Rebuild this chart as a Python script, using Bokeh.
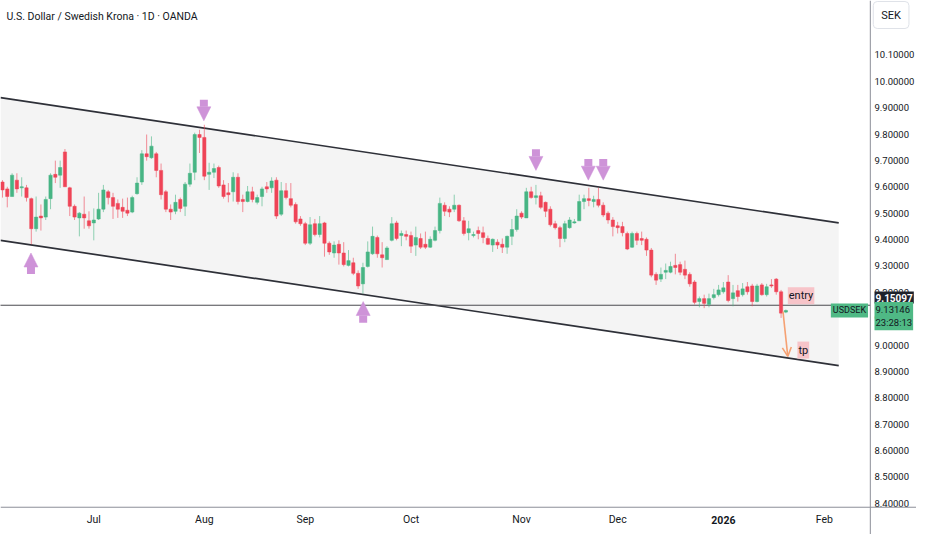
from bokeh.plotting import figure
from bokeh.models import (Range1d, Span, Label, Arrow, NormalHead, OpenHead,
                          ColumnDataSource)
from bokeh.core.properties import value
from bokeh.embed import file_html
from bokeh.resources import INLINE

# ---------------- data ----------------
title_text = "U.S. Dollar / Swedish Krona \u00b7 1D \u00b7 OANDA"
month_ticks = [19, 42, 63, 85, 108, 128, 150, 171]
month_labels = ["Jul", "Aug", "Sep", "Oct", "Nov", "Dec", "2026", "Feb"]
price_ticks = [8.4, 8.5, 8.6, 8.7, 8.8, 8.9, 9.0, 9.1, 9.2, 9.3, 9.4, 9.5,
               9.6, 9.7, 9.8, 9.9, 10.0, 10.1]

opens = [9.618, 9.592, 9.563, 9.625, 9.596, 9.596, 9.555, 9.441, 9.489, 9.485,
         9.555, 9.647, 9.644, 9.732, 9.596, 9.526, 9.482, 9.496, 9.471, 9.463,
         9.478, 9.515, 9.581, 9.559, 9.537, 9.522, 9.511, 9.504, 9.574, 9.618,
         9.725, 9.710, 9.725, 9.662, 9.581, 9.515, 9.507, 9.552, 9.526, 9.610,
         9.655, 9.798, 9.787, 9.647, 9.655, 9.673, 9.607, 9.577, 9.581, 9.636,
         9.552, 9.544, 9.581, 9.541, 9.563, 9.600, 9.596, 9.625, 9.496, 9.585,
         9.555, 9.533, 9.478, 9.460, 9.386, 9.460, 9.419, 9.463, 9.386, 9.349,
         9.382, 9.349, 9.302, 9.312, 9.272, 9.232, 9.298, 9.346, 9.408, 9.342,
         9.324, 9.397, 9.463, 9.415, 9.419, 9.415, 9.379, 9.404, 9.382, 9.371,
         9.397, 9.434, 9.530, 9.515, 9.515, 9.530, 9.471, 9.426, 9.415, 9.434,
         9.426, 9.404, 9.379, 9.390, 9.382, 9.371, 9.412, 9.438, 9.500, 9.482,
         9.581, 9.559, 9.566, 9.541, 9.515, 9.460, 9.445, 9.404, 9.445, 9.463,
         9.471, 9.544, 9.555, 9.544, 9.552, 9.530, 9.500, 9.474, 9.452, 9.449,
         9.423, 9.371, 9.423, 9.404, 9.401, 9.360, 9.268, 9.250, 9.276, 9.276,
         9.302, 9.305, 9.287, 9.268, 9.239, 9.165, 9.176, 9.154, 9.180, 9.191,
         9.202, 9.239, 9.176, 9.206, 9.191, 9.221, 9.224, 9.165, 9.228, 9.191,
         9.228, 9.250, 9.202, 9.125]

highs = [9.625, 9.600, 9.651, 9.651, 9.636, 9.607, 9.559, 9.563, 9.533, 9.563,
         9.651, 9.699, 9.699, 9.743, 9.600, 9.533, 9.504, 9.563, 9.507, 9.518,
         9.577, 9.607, 9.588, 9.577, 9.552, 9.555, 9.559, 9.566, 9.636, 9.739,
         9.798, 9.791, 9.732, 9.688, 9.588, 9.533, 9.570, 9.559, 9.618, 9.688,
         9.805, 9.816, 9.835, 9.691, 9.688, 9.680, 9.625, 9.614, 9.655, 9.651,
         9.570, 9.603, 9.600, 9.570, 9.600, 9.618, 9.636, 9.636, 9.618, 9.614,
         9.614, 9.541, 9.489, 9.467, 9.485, 9.478, 9.489, 9.467, 9.393, 9.393,
         9.397, 9.390, 9.360, 9.331, 9.283, 9.312, 9.393, 9.449, 9.415, 9.390,
         9.375, 9.485, 9.471, 9.434, 9.434, 9.430, 9.449, 9.423, 9.430, 9.412,
         9.449, 9.559, 9.541, 9.526, 9.570, 9.533, 9.485, 9.471, 9.430, 9.449,
         9.449, 9.415, 9.404, 9.401, 9.404, 9.415, 9.478, 9.515, 9.507, 9.596,
         9.600, 9.607, 9.581, 9.544, 9.526, 9.471, 9.452, 9.471, 9.485, 9.478,
         9.570, 9.570, 9.596, 9.566, 9.596, 9.541, 9.507, 9.485, 9.467, 9.467,
         9.430, 9.430, 9.430, 9.430, 9.408, 9.368, 9.276, 9.294, 9.309, 9.316,
         9.346, 9.316, 9.320, 9.276, 9.246, 9.184, 9.191, 9.195, 9.213, 9.228,
         9.239, 9.265, 9.228, 9.228, 9.235, 9.239, 9.232, 9.232, 9.235, 9.232,
         9.250, 9.254, 9.209, 9.135]

lows = [9.559, 9.522, 9.563, 9.577, 9.563, 9.544, 9.382, 9.430, 9.434, 9.474,
        9.515, 9.614, 9.596, 9.600, 9.489, 9.474, 9.412, 9.441, 9.441, 9.397,
        9.474, 9.504, 9.533, 9.478, 9.482, 9.482, 9.489, 9.500, 9.570, 9.607,
        9.699, 9.706, 9.636, 9.552, 9.504, 9.474, 9.496, 9.504, 9.489, 9.600,
        9.625, 9.728, 9.625, 9.588, 9.633, 9.596, 9.555, 9.541, 9.544, 9.533,
        9.504, 9.541, 9.541, 9.533, 9.526, 9.577, 9.577, 9.478, 9.489, 9.552,
        9.522, 9.460, 9.452, 9.379, 9.379, 9.412, 9.408, 9.335, 9.342, 9.331,
        9.305, 9.298, 9.298, 9.265, 9.213, 9.195, 9.294, 9.342, 9.331, 9.294,
        9.324, 9.393, 9.397, 9.375, 9.397, 9.349, 9.338, 9.364, 9.364, 9.368,
        9.393, 9.423, 9.489, 9.485, 9.504, 9.467, 9.415, 9.397, 9.408, 9.401,
        9.386, 9.379, 9.353, 9.364, 9.349, 9.346, 9.379, 9.430, 9.478, 9.482,
        9.555, 9.533, 9.515, 9.485, 9.449, 9.438, 9.371, 9.390, 9.441, 9.460,
        9.471, 9.515, 9.526, 9.522, 9.522, 9.485, 9.460, 9.412, 9.423, 9.412,
        9.360, 9.368, 9.379, 9.379, 9.338, 9.257, 9.228, 9.239, 9.250, 9.272,
        9.268, 9.265, 9.250, 9.221, 9.154, 9.143, 9.140, 9.143, 9.173, 9.184,
        9.195, 9.162, 9.147, 9.165, 9.184, 9.191, 9.147, 9.162, 9.187, 9.184,
        9.217, 9.191, 9.103, 9.121]

closes = [9.588, 9.563, 9.644, 9.592, 9.600, 9.559, 9.441, 9.485, 9.482, 9.552,
          9.644, 9.636, 9.673, 9.600, 9.526, 9.485, 9.500, 9.482, 9.452, 9.474,
          9.515, 9.588, 9.559, 9.526, 9.515, 9.507, 9.500, 9.559, 9.614, 9.725,
          9.714, 9.754, 9.662, 9.570, 9.515, 9.504, 9.541, 9.518, 9.610, 9.651,
          9.798, 9.787, 9.640, 9.655, 9.669, 9.603, 9.563, 9.570, 9.636, 9.544,
          9.544, 9.581, 9.552, 9.559, 9.592, 9.592, 9.622, 9.489, 9.585, 9.559,
          9.530, 9.467, 9.460, 9.386, 9.456, 9.419, 9.460, 9.386, 9.353, 9.379,
          9.349, 9.305, 9.320, 9.272, 9.224, 9.294, 9.353, 9.412, 9.346, 9.331,
          9.368, 9.460, 9.404, 9.423, 9.412, 9.375, 9.408, 9.371, 9.371, 9.401,
          9.434, 9.537, 9.507, 9.504, 9.530, 9.471, 9.423, 9.441, 9.419, 9.423,
          9.408, 9.382, 9.401, 9.379, 9.371, 9.412, 9.438, 9.489, 9.485, 9.581,
          9.559, 9.566, 9.522, 9.507, 9.456, 9.445, 9.404, 9.460, 9.474, 9.467,
          9.544, 9.555, 9.548, 9.552, 9.530, 9.493, 9.474, 9.449, 9.445, 9.426,
          9.364, 9.423, 9.397, 9.397, 9.360, 9.265, 9.246, 9.268, 9.283, 9.298,
          9.294, 9.276, 9.265, 9.232, 9.162, 9.176, 9.158, 9.176, 9.191, 9.209,
          9.217, 9.169, 9.198, 9.184, 9.213, 9.202, 9.165, 9.224, 9.191, 9.221,
          9.224, 9.202, 9.121, 9.131]

# descending channel (two parallel trend lines)
channel_x = [-0.41, 174.0]
channel_upper = [9.938, 9.463]
channel_lower = [9.397, 8.922]

entry_level = 9.15097
last_price = 9.13146
countdown = "23:28:13"
tp_level = 8.957
currency = "SEK"
symbol = "USDSEK"

# purple marker arrows (bar index, tip price)
top_marks_x = [41.9, 111.0, 121.9, 125.0]
top_marks_y = [9.850, 9.662, 9.625, 9.625]
bottom_marks_x = [5.93, 75.05]
bottom_marks_y = [9.349, 9.165]

# ---------------- styles / layout ----------------
UP = "#47b584"
DOWN = "#ef4457"
PURPLE = "#ce93d8"
ORANGE = "#f5a173"
TXT = "#131722"
BOXGREEN = "#4fb985"
SCALE_LINE = "#8c8f99"
FONT = "Roboto"

# whole canvas range: chart pane plus price scale (right) and time scale (bottom)
X0, X1 = -0.41, 190.18
Y0, Y1 = 8.282, 10.306
SCALE_X = 180.57      # left edge of the price scale
SCALE_Y = 8.3853      # top edge of the time scale
LABEL_X = 181.44      # price-scale text column
TIME_Y = 8.3375       # time-scale text row

bars = list(range(len(closes)))
colors = [UP if c >= o else DOWN for o, c in zip(opens, closes)]
tops = [max(o, c) for o, c in zip(opens, closes)]
bottoms = [min(o, c) for o, c in zip(opens, closes)]

p = figure(width=916, height=534, x_range=Range1d(X0, X1), y_range=Range1d(Y0, Y1),
           output_backend="svg", toolbar_location=None,
           x_axis_location=None, y_axis_location=None, min_border=0,
           background_fill_color="white", border_fill_color="white")
p.outline_line_color = None
p.grid.visible = False

# channel
p.varea(x=channel_x, y1=channel_lower, y2=channel_upper, fill_color="#f4f4f4")
p.line(channel_x, channel_upper, line_color="#2e3038", line_width=1.7)
p.line(channel_x, channel_lower, line_color="#2e3038", line_width=1.7)

# entry level line (up to the price scale)
p.line([X0 - 1, SCALE_X], [entry_level, entry_level], line_color="#4a4a4f",
       line_width=1)

# candles
src = ColumnDataSource(dict(x=bars, o=opens, h=highs, l=lows, c=closes,
                            top=tops, bottom=bottoms, color=colors))
p.segment(x0="x", y0="l", x1="x", y1="h", line_color="color", line_alpha=0.6,
          line_width=1, source=src)
p.vbar(x="x", width=0.68, top="top", bottom="bottom", fill_color="color",
       line_color="color", line_width=0.5, source=src)

# scale separators
p.add_layout(Span(location=SCALE_X, dimension="height", line_color=SCALE_LINE,
                  line_width=1))
p.add_layout(Span(location=SCALE_Y, dimension="width", line_color=SCALE_LINE,
                  line_width=1))

# price scale tick labels
p.text(x=[LABEL_X] * len(price_ticks), y=price_ticks,
       text=["%.5f" % t for t in price_ticks], text_font=value(FONT),
       text_font_size="9.5px", text_color=TXT, text_align="left",
       text_baseline="middle")

# time scale tick labels
norm = [(t, l) for t, l in zip(month_ticks, month_labels) if l != "2026"]
bold = [(t, l) for t, l in zip(month_ticks, month_labels) if l == "2026"]
p.text(x=[t for t, _ in norm], y=[TIME_Y] * len(norm), text=[l for _, l in norm],
       text_font=value(FONT), text_font_size="10.5px", text_color=TXT,
       text_align="center", text_baseline="middle")
p.text(x=[t for t, _ in bold], y=[TIME_Y] * len(bold), text=[l for _, l in bold],
       text_font=value(FONT), text_font_size="10.5px", text_font_style="bold",
       text_color=TXT, text_align="center", text_baseline="middle")

# purple arrows
head_len = 0.08
top_src = ColumnDataSource(dict(x=top_marks_x,
                                ys=[v + head_len for v in top_marks_y],
                                ye=top_marks_y))
bot_src = ColumnDataSource(dict(x=bottom_marks_x,
                                ys=[v - head_len for v in bottom_marks_y],
                                ye=bottom_marks_y))
for s in (top_src, bot_src):
    p.add_layout(Arrow(end=NormalHead(size=14, fill_color=PURPLE, line_color=PURPLE,
                                      line_width=0.5),
                       x_start="x", y_start="ys", x_end="x", y_end="ye",
                       line_color=PURPLE, line_width=8, source=s))

# orange target arrow
p.add_layout(Arrow(end=OpenHead(size=9, line_color=ORANGE, line_width=1.6),
                   x_start=bars[-1] - 0.6, y_start=closes[-1] - 0.004,
                   x_end=bars[-1] + 0.4, y_end=tp_level,
                   line_color=ORANGE, line_width=1.6))

# text labels on chart
p.add_layout(Label(x=163.4, y=9.187, text="entry", text_font=FONT,
                   text_font_size="11px", text_color=TXT, text_baseline="middle",
                   background_fill_color="#f7c4c9", padding=(1, 2)))
p.add_layout(Label(x=165.4, y=8.981, text="tp", text_font=FONT,
                   text_font_size="11px", text_color=TXT, text_baseline="middle",
                   background_fill_color="#f7c4c9", padding=(1, 2)))
p.add_layout(Label(x=0.82, y=10.247, text=title_text, text_font=FONT,
                   text_font_size="10.5px", text_color=TXT, text_baseline="middle"))
p.add_layout(Label(x=180.1, y=last_price, text=symbol, text_font=FONT,
                   text_font_size="9px", text_color=TXT, text_align="right",
                   text_baseline="middle", background_fill_color=BOXGREEN,
                   padding=(2, 2)))

# price-scale boxes
p.add_layout(Label(x=LABEL_X, y=9.180, text="%.5f" % entry_level, text_font=FONT,
                   text_font_size="10px", text_font_style="bold", text_color="white",
                   text_baseline="middle", background_fill_color="#1e222a",
                   padding=(1, 2)))
p.add_layout(Label(x=LABEL_X, y=9.110, text="%.5f\n%s" % (last_price, countdown),
                   text_font=FONT, text_font_size="9.5px", text_color=TXT,
                   text_baseline="middle", background_fill_color=BOXGREEN,
                   padding=(1, 2)))
p.add_layout(Label(x=184.9, y=10.251, text=currency, text_font=FONT,
                   text_font_size="11px", text_color=TXT, text_align="center",
                   text_baseline="middle", background_fill_color="white",
                   border_line_color="#dfe2e8", padding=(8, 7), border_radius=4))

open("out.html", "w").write(file_html(p, INLINE))
